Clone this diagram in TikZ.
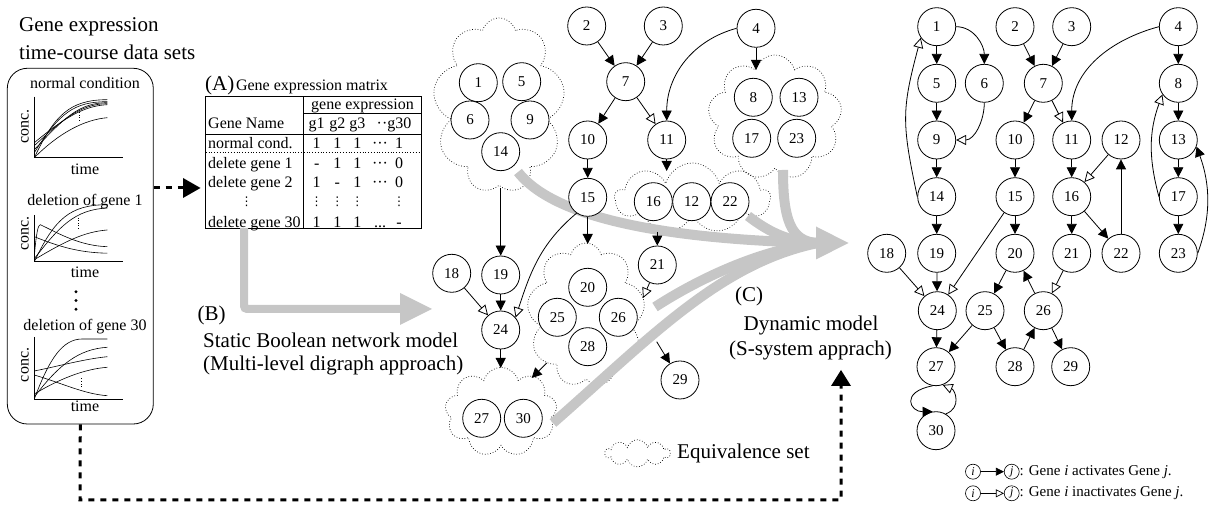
\documentclass[tikz,border=0pt]{standalone}
\usepackage{fontspec}
\setmainfont{Liberation Serif}
\newfontfamily\dvsfont{DejaVu Sans}
\usetikzlibrary{arrows.meta,shapes.symbols}
\definecolor{gr}{RGB}{198,198,198}
\newcommand{\smallvd}{{\dvsfont\fontsize{12}{12}\selectfont ⋮}}
\tikzset{
 gn/.style={circle,draw,line width=0.8pt,minimum size=38pt,inner sep=0pt,fill=white,font=\fontsize{15}{15}\selectfont},
 act/.style={line width=0.8pt,-{Triangle[length=10pt,width=10pt]}},
 inh/.style={line width=0.8pt,-{Triangle[open,length=10pt,width=10pt]}},
 eqset/.style={cloud,draw,dotted,line width=0.7pt,cloud ignores aspect,inner sep=0pt},
 big/.style={font=\fontsize{21}{25}\selectfont,inner sep=0pt},
 mid/.style={font=\fontsize{16}{18}\selectfont,inner sep=0pt},
 mt/.style={mid,text height=10.8pt,text depth=0pt},
 grayarrow/.style={gr,line width=10pt},
 thickdots/.style={line width=3pt,dash pattern=on 6pt off 6pt},
 crv/.style={line width=0.6pt},
 lc/.style={circle,draw,line width=0.6pt,minimum size=15pt,inner sep=0pt,font=\fontsize{12}{12}\selectfont},
}
\begin{document}
\begin{tikzpicture}[x=1pt,y=1pt]
\useasboundingbox (0,0) rectangle (1213,508);
% ---------- left panel ----------
\node[big,anchor=west] (title1) at (19,481) {Gene expression};
\node[big,anchor=west] (title2) at (19,456) {time-course data sets};
\node[draw,line width=0.8pt,rounded corners=20pt,minimum width=146pt,minimum height=355.7pt,inner sep=0pt] (panel) at (80.3,261.85) {};
% plot 1
\node[mid] (p1t) at (85,425.3) {normal condition};
\node[mid,rotate=90] (p1c) at (25,381.3) {conc.};
\node[mid] (p1x) at (85,338.7) {time};
\begin{scope}[shift={(34.3,350.3)}]
 \draw[line width=0.7pt] (0,61) -- (0,0) -- (88.4,0);
 \draw[crv] (0,0) .. controls (20,42) and (35,58) .. (73,58);
 \draw[crv] (0,5) .. controls (25,45) and (40,56) .. (73,56);
 \draw[crv] (0,8) .. controls (30,40) and (45,55) .. (73,55);
 \draw[crv] (0,12) .. controls (25,35) and (45,54) .. (73,54);
 \draw[crv] (0,15) .. controls (30,40) and (50,52) .. (73,53);
 \draw[crv] (0,0) .. controls (25,25) and (50,38) .. (73,40);
 \draw[dotted,line width=0.7pt] (45,37) -- (45,46);
\end{scope}
% plot 2
\node[mid] (p2t) at (85,306.3) {deletion of gene 1};
\node[mid,rotate=90] (p2c) at (25,274.7) {conc.};
\node[mid] (p2x) at (85,235.3) {time};
\begin{scope}[shift={(34.3,246.3)}]
 \draw[line width=0.7pt] (0,46.7) -- (0,0) -- (88.4,0);
 \draw[crv] (0,0) .. controls (20,42) and (35,57) .. (73,57);
 \draw[crv] (0,3) .. controls (25,35) and (40,52) .. (73,53.7);
 \draw[crv] (0,2) .. controls (30,20) and (50,30) .. (73,31.7);
 \draw[crv] (0,5) .. controls (2,30) and (4,37) .. (6,37) .. controls (25,28) and (45,16) .. (73,15);
 \draw[crv] (0,25) .. controls (25,15) and (45,9) .. (73,8.5);
 \draw[dotted,line width=0.7pt] (44,33) -- (44,44);
\end{scope}
\fill (76,216.3) circle (1.6);
\fill (76,207.5) circle (1.6);
\fill (76,198.7) circle (1.6);
% plot 3
\node[mid] (p3t) at (85,181.3) {deletion of gene 30};
\node[mid,rotate=90] (p3c) at (25,143) {conc.};
\node[mid] (p3x) at (85,101.3) {time};
\begin{scope}[shift={(34.3,109)}]
 \draw[line width=0.7pt] (0,62) -- (0,0) -- (88.4,0);
 \draw[crv] (0,0) .. controls (15,40) and (28,60) .. (48,60) -- (73,60);
 \draw[crv] (0,2) .. controls (25,35) and (45,50) .. (73,51.7);
 \draw[crv] (0,28) .. controls (25,33) and (50,40) .. (73,42.3);
 \draw[crv] (0,5) .. controls (25,20) and (50,30) .. (73,31.7);
 \draw[crv] (0,24) .. controls (30,15) and (50,5) .. (73,3.3);
 \draw[dotted,line width=0.7pt] (46.7,12) -- (46.7,21);
\end{scope}
% ---------- matrix ----------
\node[anchor=west,inner sep=0pt] (mA) at (205,423) {{\fontsize{21}{25}\selectfont (A)}\,{\fontsize{16}{18}\selectfont Gene expression matrix}};
\node[draw,line width=0.8pt,minimum width=216pt,minimum height=132.3pt,inner sep=0pt] (mat) at (313.7,345.85) {};
\draw[line width=0.8pt] (303.3,279.7) -- (303.3,412);
\draw[line width=0.8pt] (303.3,394.7) -- (421.7,394.7);
\draw[line width=0.8pt] (205.7,373.7) -- (421.7,373.7);
\draw[dotted,line width=0.8pt] (205.7,355.3) -- (421.7,355.3);
\node[mt] (h1) at (362.5,403.5) {gene expression};
\node[mt,anchor=west] (h2) at (208,384.7) {Gene Name};
\node[mt] (g1) at (316.7,384.7) {g1};
\node[mt] (g2) at (337.3,384.7) {g2};
\node[mt] (g3) at (357.3,384.7) {g3};
\node[mt] (g30) at (394,384.7) {··g30};
\node[mt,anchor=west] (r1l) at (208,364.7) {normal cond.};
\node[mt,anchor=west] (r2l) at (208,345.3) {delete gene 1};
\node[mt,anchor=west] (r3l) at (208,326.3) {delete gene 2};
\node[inner sep=0pt] (r4l) at (246.7,306.3) {\smallvd};
\node[mt,anchor=west] (r5l) at (208,286.3) {delete gene 30};
% row: normal
\node[mt] (v1a) at (316.7,364.7) {1};
\node[mt] (v1b) at (337.3,364.7) {1};
\node[mt] (v1c) at (357.3,364.7) {1};
\node[mt] (v1d) at (380,364.7) {···};
\node[mt] (v1e) at (399,364.7) {1};
% row: delete 1
\node[mt] (v2a) at (316.7,345.3) {-};
\node[mt] (v2b) at (337.3,345.3) {1};
\node[mt] (v2c) at (357.3,345.3) {1};
\node[mt] (v2d) at (380,345.3) {···};
\node[mt] (v2e) at (399,345.3) {0};
% row: delete 2
\node[mt] (v3a) at (316.7,326.3) {1};
\node[mt] (v3b) at (337.3,326.3) {-};
\node[mt] (v3c) at (357.3,326.3) {1};
\node[mt] (v3d) at (380,326.3) {···};
\node[mt] (v3e) at (399,326.3) {0};
% row: vdots
\node[inner sep=0pt] (v4a) at (316.7,306.3) {\smallvd};
\node[inner sep=0pt] (v4b) at (337.3,306.3) {\smallvd};
\node[inner sep=0pt] (v4c) at (357.3,306.3) {\smallvd};
\node[inner sep=0pt] (v4e) at (399,306.3) {\smallvd};
% row: delete 30
\node[mt] (v5a) at (316.7,286.3) {1};
\node[mt] (v5b) at (337.3,286.3) {1};
\node[mt] (v5c) at (357.3,286.3) {1};
\node[mt] (v5d) at (380,286.3) {...};
\node[mt] (v5e) at (399,286.3) {-};
% dashed arrow panel -> matrix
\coordinate (matin) at (200.5,320);
\draw[thickdots] (panel.east |- matin) -- (184,320);
\fill (183,330) -- (matin) -- (183,310) -- cycle;
% bottom dashed connector
\coordinate (dynin) at (841,138);
\draw[thickdots] (panel.south) -- (80,8) -- (841,8) -- (841,122);
\fill (831,122) -- (dynin) -- (851,122) -- cycle;
% ---------- labels ----------
\node[big] (lB) at (211.7,193) {(B)};
\node[big,anchor=west] (lB1) at (203,168) {Static Boolean network model};
\node[big,anchor=west] (lB2) at (203,143) {(Multi-level digraph approach)};
\node[big] (lC) at (749,212) {(C)};
\node[big] (lC1) at (811,183) {Dynamic model};
\node[big] (lC2) at (810.5,158) {(S-system apprach)};
% gray arrow B
\draw[gr,line width=8pt,rounded corners=3pt] (244,280) -- (244,199) -- (402,199);
\fill[gr] (400,215) -- (432,199) -- (400,183) -- cycle;
% ---------- clouds ----------
\node[eqset,cloud puffs=9,minimum width=132pt,minimum height=175pt] (cA) at (499,402.5) {};
\node[eqset,cloud puffs=9,minimum width=134pt,minimum height=125pt] (cB) at (775,390.5) {};
\node[eqset,cloud puffs=9,minimum width=155pt,minimum height=70pt] (cC) at (692.5,310) {};
\node[eqset,cloud puffs=9,minimum width=118pt,minimum height=144pt] (cD) at (586,193) {};
\node[eqset,cloud puffs=9,minimum width=112pt,minimum height=89pt] (cE) at (501,96) {};
\node[eqset,cloud puffs=10,minimum width=65pt,minimum height=27pt] (leq) at (637.5,54.7) {};
\node[big,anchor=west] (leqt) at (677,54.7) {Equivalence set};
% ---------- gray convergent arrows ----------
\coordinate (gtip) at (848.5,265);
\draw[grayarrow] (518,336) .. controls (560,282) and (700,268) .. (818,265);
\draw[grayarrow] (748,292) .. controls (770,275) and (790,266) .. (818,265);
\draw[grayarrow] (783,338) .. controls (783,290) and (790,266) .. (818,265);
\draw[grayarrow] (655,201) .. controls (700,230) and (760,258) .. (818,265);
\draw[grayarrow] (553,85) .. controls (650,170) and (720,245) .. (818,265);
\fill[gr] (816,281.5) -- (gtip) -- (816,248.5) -- cycle;
% ---------- middle network ----------
\node[gn] (m1) at (478.3,425.3) {1};
\node[gn] (m5) at (521.7,426.3) {5};
\node[gn] (m6) at (470,388) {6};
\node[gn] (m9) at (530,388) {9};
\node[gn] (m14) at (500.7,356.3) {14};
\node[gn] (m2) at (586.7,482) {2};
\node[gn] (m3) at (663.3,482) {3};
\node[gn] (m4) at (756,479.7) {4};
\node[gn] (m7) at (625.7,426.3) {7};
\node[gn] (m10) at (587.7,368) {10};
\node[gn] (m11) at (666.7,368) {11};
\node[gn] (m15) at (587.7,310.7) {15};
\node[gn] (m8) at (753.3,410.7) {8};
\node[gn] (m13) at (799,410.7) {13};
\node[gn] (m17) at (751.7,369.7) {17};
\node[gn] (m23) at (796.7,369.7) {23};
\node[gn] (m16) at (653.3,306.3) {16};
\node[gn] (m12) at (691.7,306.3) {12};
\node[gn] (m22) at (730,306.3) {22};
\node[gn] (m18) at (451.7,234.7) {18};
\node[gn] (m19) at (500.7,233) {19};
\node[gn] (m24) at (500.7,178) {24};
\node[gn] (m20) at (587.7,220.7) {20};
\node[gn] (m25) at (557.3,190.7) {25};
\node[gn] (m26) at (618.3,190.7) {26};
\node[gn] (m28) at (587.7,161.3) {28};
\node[gn] (m21) at (657.3,243) {21};
\node[gn] (m27) at (481.7,89.7) {27};
\node[gn] (m30) at (523.3,89.7) {30};
\node[gn] (m29) at (680,128) {29};
\coordinate (cAout) at (500.7,320);
\coordinate (cBin) at (756,438);
\coordinate (cCin) at (666.7,337);
\coordinate (cCout) at (657.3,276);
\coordinate (cDin) at (587.7,264);
\coordinate (cDin2) at (643,210);
\coordinate (cDout) at (546.7,145);
\coordinate (cDout2) at (656.7,166.3);
\coordinate (cEin) at (500.7,140);
\coordinate (cEin2) at (531.7,130);
\draw[act] (m2) -- (m7);
\draw[act] (m3) -- (m7);
\draw[act] (m7) -- (m10);
\draw[inh] (m7) -- (m11);
\draw[act] (m4.west) to[out=195,in=90] (m11.north);
\draw[act] (m4.south) -- (cBin);
\draw[act] (m10) -- (m15);
\draw[act] (m11.south) -- (cCin);
\draw[act] (m15.south) -- (cDin);
\draw[inh] (m15.235) to[out=220,in=72] (m24.40);
\draw[act] (cAout) -- (m19.north);
\draw[act] (cCout) -- (m21.north);
\draw[inh] (m21) -- (cDin2);
\draw[inh] (m18) -- (m24);
\draw[act] (m19) -- (m24);
\draw[act] (m24.south) -- (cEin);
\draw[act] (cDout) -- (cEin2);
\draw[act] (cDout2) -- (m29);
% ---------- right network ----------
\node[gn] (r1) at (936.7,481.3) {1};
\node[gn] (r5) at (936.7,424.7) {5};
\node[gn] (r6) at (984.3,424.7) {6};
\node[gn] (r9) at (936.7,368) {9};
\node[gn] (r14) at (936.7,311.3) {14};
\node[gn] (r19) at (936.7,254.7) {19};
\node[gn] (r18) at (886.7,254.7) {18};
\node[gn] (r2) at (1015,481.3) {2};
\node[gn] (r10) at (1015,368) {10};
\node[gn] (r15) at (1015,311.3) {15};
\node[gn] (r20) at (1015,254.7) {20};
\node[gn] (r3) at (1071.7,481.3) {3};
\node[gn] (r4) at (1178.3,481.3) {4};
\node[gn] (r7) at (1043.3,424.7) {7};
\node[gn] (r8) at (1178.3,424.7) {8};
\node[gn] (r11) at (1071.7,368) {11};
\node[gn] (r12) at (1121,368) {12};
\node[gn] (r13) at (1178.3,368) {13};
\node[gn] (r16) at (1071.7,311.3) {16};
\node[gn] (r17) at (1178.3,311.3) {17};
\node[gn] (r21) at (1071.7,254.7) {21};
\node[gn] (r22) at (1121,254.7) {22};
\node[gn] (r23) at (1178.3,254.7) {23};
\node[gn] (r24) at (937.3,197.3) {24};
\node[gn] (r25) at (985,197.3) {25};
\node[gn] (r26) at (1043.3,197.3) {26};
\node[gn] (r27) at (936,141.3) {27};
\node[gn] (r28) at (1015,141.3) {28};
\node[gn] (r29) at (1070.7,141.3) {29};
\node[gn] (r30) at (936,77.3) {30};
\draw[act] (r1) -- (r5);
\draw[act] (r1.east) to[out=0,in=90] (r6.north);
\draw[act] (r5) -- (r9);
\draw[inh] (r6.south) to[out=-90,in=0] (r9.east);
\draw[act] (r9) -- (r14);
\draw[inh] (r14.west) .. controls +(102:75) and +(255:75) .. (r1.215);
\draw[act] (r14) -- (r19);
\draw[act] (r19) -- (r24);
\draw[inh] (r18) -- (r24);
\draw[inh] (r15) -- (r24);
\draw[act] (r2) -- (r7);
\draw[act] (r3) -- (r7);
\draw[act] (r7) -- (r10);
\draw[inh] (r7) -- (r11);
\draw[act] (r4.west) to[out=195,in=90] (r11.north);
\draw[act] (r10) -- (r15);
\draw[act] (r15) -- (r20);
\draw[act] (r11) -- (r16);
\draw[inh] (r12) -- (r16);
\draw[act] (r16) -- (r22);
\draw[act] (r22) -- (r12);
\draw[act] (r16) -- (r21);
\draw[act] (r4) -- (r8);
\draw[act] (r8) -- (r13);
\draw[act] (r13) -- (r17);
\draw[act] (r17) -- (r23);
\draw[inh] (r17.west) .. controls +(105:40) and +(250:40) .. (r8.215);
\draw[act] (r23.east) .. controls +(70:40) and +(290:40) .. (r13.-20);
\draw[act] (r20) -- (r25);
\draw[act] (r26) -- (r20);
\draw[inh] (r21) -- (r26);
\draw[act] (r24) -- (r27);
\draw[act] (r25) -- (r27);
\draw[act] (r25) -- (r28);
\draw[act] (r28) -- (r26);
\draw[act] (r26) -- (r29);
\draw[act] (r27.-100) .. controls (900,116) and (910,96) .. (r30.100);
\draw[inh] (r30.60) .. controls (962,100) and (955,118) .. (r27.-70);
% ---------- legend ----------
\node[lc] (li1) at (973,36.3) {\textit{i}};
\node[lc] (lj1) at (1011.7,36.3) {\textit{j}};
\draw[line width=0.7pt,-{Triangle[length=8pt,width=8pt]}] (li1) -- (lj1);
\node[anchor=west,inner sep=0pt,font=\fontsize{15}{16}\selectfont] (lt1) at (1019.5,36.3) {: Gene \textit{i} activates Gene \textit{j}.};
\node[lc] (li2) at (973,14.7) {\textit{i}};
\node[lc] (lj2) at (1011.7,14.7) {\textit{j}};
\draw[line width=0.7pt,-{Triangle[open,length=8pt,width=8pt]}] (li2) -- (lj2);
\node[anchor=west,inner sep=0pt,font=\fontsize{15}{16}\selectfont] (lt2) at (1019.5,14.7) {: Gene \textit{i} inactivates Gene \textit{j}.};
\end{tikzpicture}
\end{document}
